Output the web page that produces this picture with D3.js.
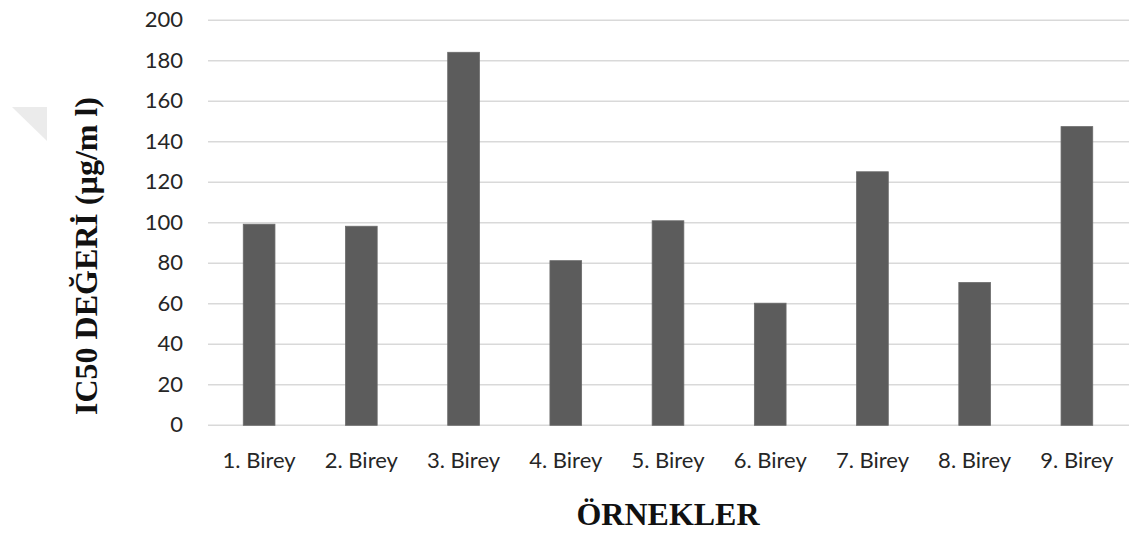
<!DOCTYPE html>
<html>
<head>
<meta charset="utf-8">
<script src="https://cdn.jsdelivr.net/npm/d3@7"></script>
<style>
  html, body { margin: 0; padding: 0; background: #fff; }
  svg { display: block; }
</style>
</head>
<body>
<svg id="chart" width="1129" height="538"></svg>
<script>
// IC50 values per individual sample
const categories = ["1. Birey", "2. Birey", "3. Birey", "4. Birey", "5. Birey", "6. Birey", "7. Birey", "8. Birey", "9. Birey"];
const ic50Values = [99.3, 98.3, 184.2, 81.3, 101, 60.3, 125.2, 70.5, 147.5];
const yTicks = [0, 20, 40, 60, 80, 100, 120, 140, 160, 180, 200];
const yTitle = "IC50 DEĞERİ (µg/m l)";
const xTitle = "ÖRNEKLER";

const svg = d3.select("#chart");
const plot = { left: 208, right: 1128, top: 20.3, bottom: 425.3 };

const x = d3.scaleBand()
  .domain(categories)
  .range([plot.left, plot.right])
  .paddingInner(0.69)
  .paddingOuter(0.345);

const y = d3.scaleLinear()
  .domain([0, 200])
  .range([plot.bottom, plot.top]);

// faint corner mark
svg.append("path")
  .attr("d", "M12,107 L47,107 L47,141 Z")
  .attr("fill", "#ebebeb");

// horizontal gridlines
svg.append("g")
  .selectAll("line")
  .data(yTicks)
  .join("line")
  .attr("x1", plot.left)
  .attr("x2", plot.right + 1)
  .attr("y1", d => y(d))
  .attr("y2", d => y(d))
  .attr("stroke", "#d9d9d9")
  .attr("stroke-width", 1.5);

// y axis tick labels
const yAxis = d3.axisLeft(y).tickValues(yTicks).tickSize(0).tickPadding(0);
const gy = svg.append("g")
  .attr("transform", `translate(183,0)`)
  .call(yAxis);
gy.select(".domain").remove();
gy.selectAll("text")
  .attr("font-family", "Lato, 'Open Sans', sans-serif")
  .attr("font-size", 22)
  .attr("fill", "#262626")
  .attr("dy", "0.3em");

// bars
svg.append("g")
  .selectAll("rect")
  .data(categories.map((c, i) => ({ c, v: ic50Values[i] })))
  .join("rect")
  .attr("x", d => x(d.c))
  .attr("width", x.bandwidth())
  .attr("y", d => y(d.v))
  .attr("height", d => y(0) - y(d.v))
  .attr("fill", "#5c5c5c")
  .attr("stroke", "#6a6a6a")
  .attr("stroke-width", 0.8);

// x axis category labels
const xAxis = d3.axisBottom(x).tickSize(0).tickPadding(0);
const gx = svg.append("g")
  .attr("transform", `translate(0,467.5)`)
  .call(xAxis);
gx.select(".domain").remove();
gx.selectAll("text")
  .attr("font-family", "Lato, 'Open Sans', sans-serif")
  .attr("font-size", 22)
  .attr("fill", "#262626")
  .attr("dy", 0);

// axis titles
svg.append("text")
  .attr("x", (plot.left + plot.right) / 2)
  .attr("y", 525)
  .attr("text-anchor", "middle")
  .attr("font-family", "'Liberation Serif', 'Times New Roman', serif")
  .attr("font-weight", "bold")
  .attr("font-size", 32)
  .attr("fill", "#111")
  .text(xTitle);

svg.append("text")
  .attr("transform", "translate(97,256) rotate(-90)")
  .attr("text-anchor", "middle")
  .attr("font-family", "'Liberation Serif', 'Times New Roman', serif")
  .attr("font-weight", "bold")
  .attr("font-size", 32)
  .attr("fill", "#111")
  .text(yTitle);
</script>
</body>
</html>
